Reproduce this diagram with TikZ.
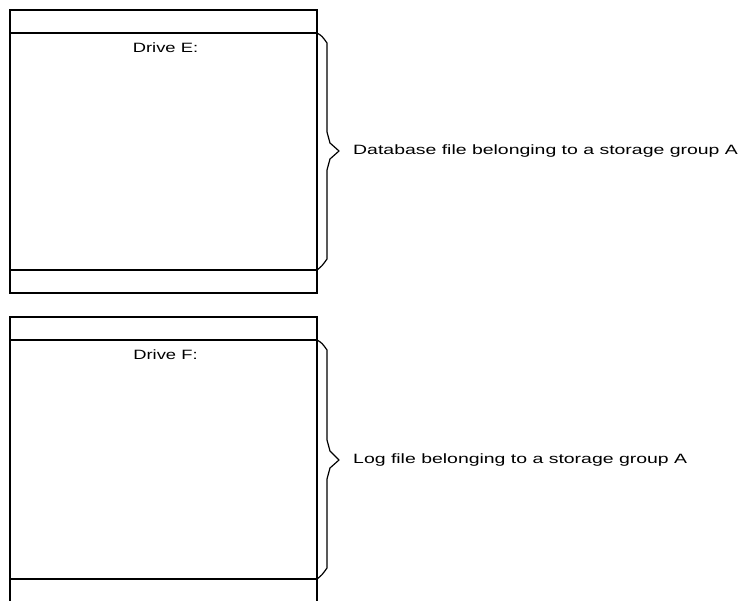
\documentclass[tikz,border=0pt]{standalone}
\usepackage{fontspec}
\setmainfont{Liberation Sans}
\begin{document}
\begin{tikzpicture}[x=1pt,y=-1pt,
  edge/.style={draw=black,line width=1.4pt},
  bracepath/.style={draw=black,line width=1.2pt,line join=round},
  lbl/.style={inner sep=0pt,font=\fontsize{13.5}{16}\selectfont},
  drv/.style={inner sep=0pt,font=\fontsize{13.5}{16}\selectfont}]
\useasboundingbox (0,0) rectangle (745,601);
% Drive E box
\draw[edge] (10,10) rectangle (317,293);
\draw[edge] (10,33) -- (317,33);
\draw[edge] (10,270) -- (317,270);
\node[drv] (dE) at (165.5,48) {\scalebox{1.36}[1]{Drive E:}};
% Drive F box
\draw[edge] (10,601) -- (10,317) -- (317,317) -- (317,601);
\draw[edge] (10,340) -- (317,340);
\draw[edge] (10,579) -- (317,579);
\node[drv] (dF) at (165.5,355) {\scalebox{1.36}[1]{Drive F:}};
% braces
\draw[bracepath] (317,33) .. controls (322,36) .. (327,43) -- (327,132) -- (330,143) -- (339,151) -- (330,159) -- (327,170) -- (327,259) .. controls (322,266) .. (317,270);
\draw[bracepath] (317,340) .. controls (322,343) .. (327,350) -- (327,440) -- (330,451) -- (339,460) -- (330,468) -- (327,479) -- (327,568) .. controls (322,575) .. (317,579);
\coordinate (tipE) at (339,151);
\coordinate (tipF) at (339,460);
\node[lbl,anchor=west] (tE) at (353,151) {\scalebox{1.44}[1]{Database file belonging to a storage group A}};
\node[lbl,anchor=west] (tF) at (353,460) {\scalebox{1.44}[1]{Log file belonging to a storage group A}};
\end{tikzpicture}
\end{document}
